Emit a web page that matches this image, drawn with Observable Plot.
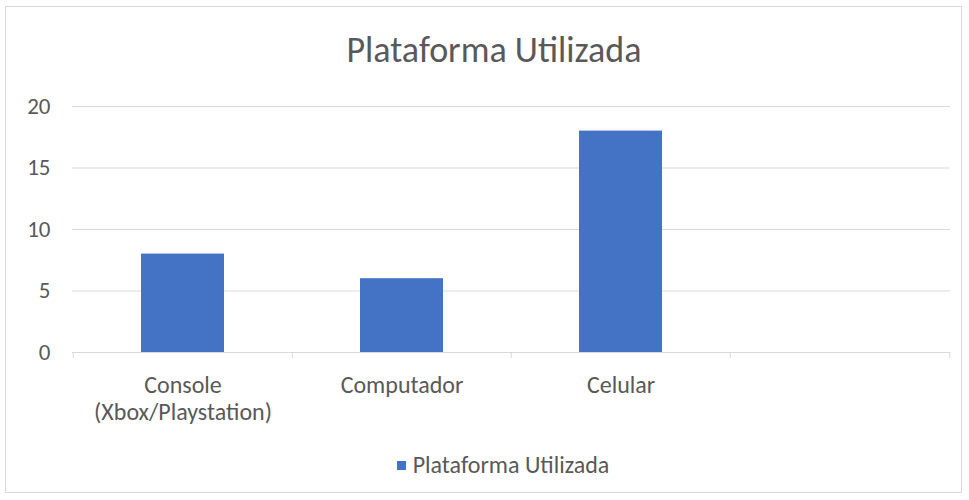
<!DOCTYPE html>
<html>
<head>
<meta charset="utf-8">
<script src="https://cdn.jsdelivr.net/npm/d3@7"></script>
<script src="https://cdn.jsdelivr.net/npm/@observablehq/plot@0.6"></script>
<style>
  html, body { margin: 0; padding: 0; background: #fff; }
  #wrap { position: relative; width: 969px; height: 500px; font-family: Calibri, Carlito, Lato, sans-serif; color: #595959; }
  #frame { position: absolute; left: 5px; top: 6px; width: 957px; height: 487px; border: 1px solid #d9d9d9; box-sizing: border-box; }
  #title { position: absolute; left: 0; width: 988px; top: 28px; text-align: center; font-size: 36px; line-height: 44px; color: #595959; white-space: nowrap; }
  #plot { position: absolute; left: 0; top: 0; }
  #legend { position: absolute; left: 0; width: 1006px; top: 451px; text-align: center; font-size: 24px; line-height: 28px; color: #595959; white-space: nowrap; }
  #legend .sw { display: inline-block; width: 9px; height: 9px; background: #4472C4; margin-right: 7px; vertical-align: middle; position: relative; top: -2px; }
</style>
</head>
<body>
<div id="wrap">
  <div id="frame"></div>
  <div id="plot"></div>
  <div id="title">Plataforma Utilizada</div>
  <div id="legend"><span class="sw"></span>Plataforma Utilizada</div>
</div>
<script>
const categories = ["Console\n(Xbox/Playstation)", "Computador", "Celular", ""];
const values = [8, 6, 18, null];
const yTicks = [0, 5, 10, 15, 20];
const seriesName = "Plataforma Utilizada";

const W = 969, H = 500, mL = 72, mR = 19, mT = 106, mB = 148;
const step = (W - mL - mR) / categories.length;
const data = categories.map((c, i) => ({cat: c, value: values[i]})).filter(d => d.value != null);

const chart = Plot.plot({
  width: W,
  height: H,
  marginLeft: mL,
  marginRight: mR,
  marginTop: mT,
  marginBottom: mB,
  style: {fontFamily: "Calibri, Carlito, Lato, sans-serif", color: "#595959", background: "transparent"},
  x: {domain: categories, padding: 0, axis: null},
  y: {domain: [0, 20], axis: null},
  marks: [
    Plot.gridY(yTicks.filter(t => t > 0), {stroke: "#d9d9d9", strokeOpacity: 1, strokeWidth: 1}),
    Plot.axisY(yTicks, {tickSize: 0, tickPadding: 22, fontSize: 23, fill: "#595959", label: null}),
    Plot.barY(data, {x: "cat", y: "value", fill: "#4472C4", insetLeft: 68, insetRight: 68}),
    Plot.ruleY([0], {stroke: "#d9d9d9", strokeWidth: 1}),
    Plot.ruleX(categories, {x: d => d, dx: -step / 2, stroke: "#d9d9d9", insetTop: H - mT - mB, insetBottom: -6}),
    Plot.ruleX([categories[categories.length - 1]], {x: d => d, dx: step / 2, stroke: "#d9d9d9", insetTop: H - mT - mB, insetBottom: -6}),
    Plot.axisX({tickSize: 0, tickPadding: 21, fontSize: 24, lineHeight: 1.125, fill: "#595959", label: null})
  ]
});
document.getElementById("plot").appendChild(chart);
</script>
</body>
</html>
